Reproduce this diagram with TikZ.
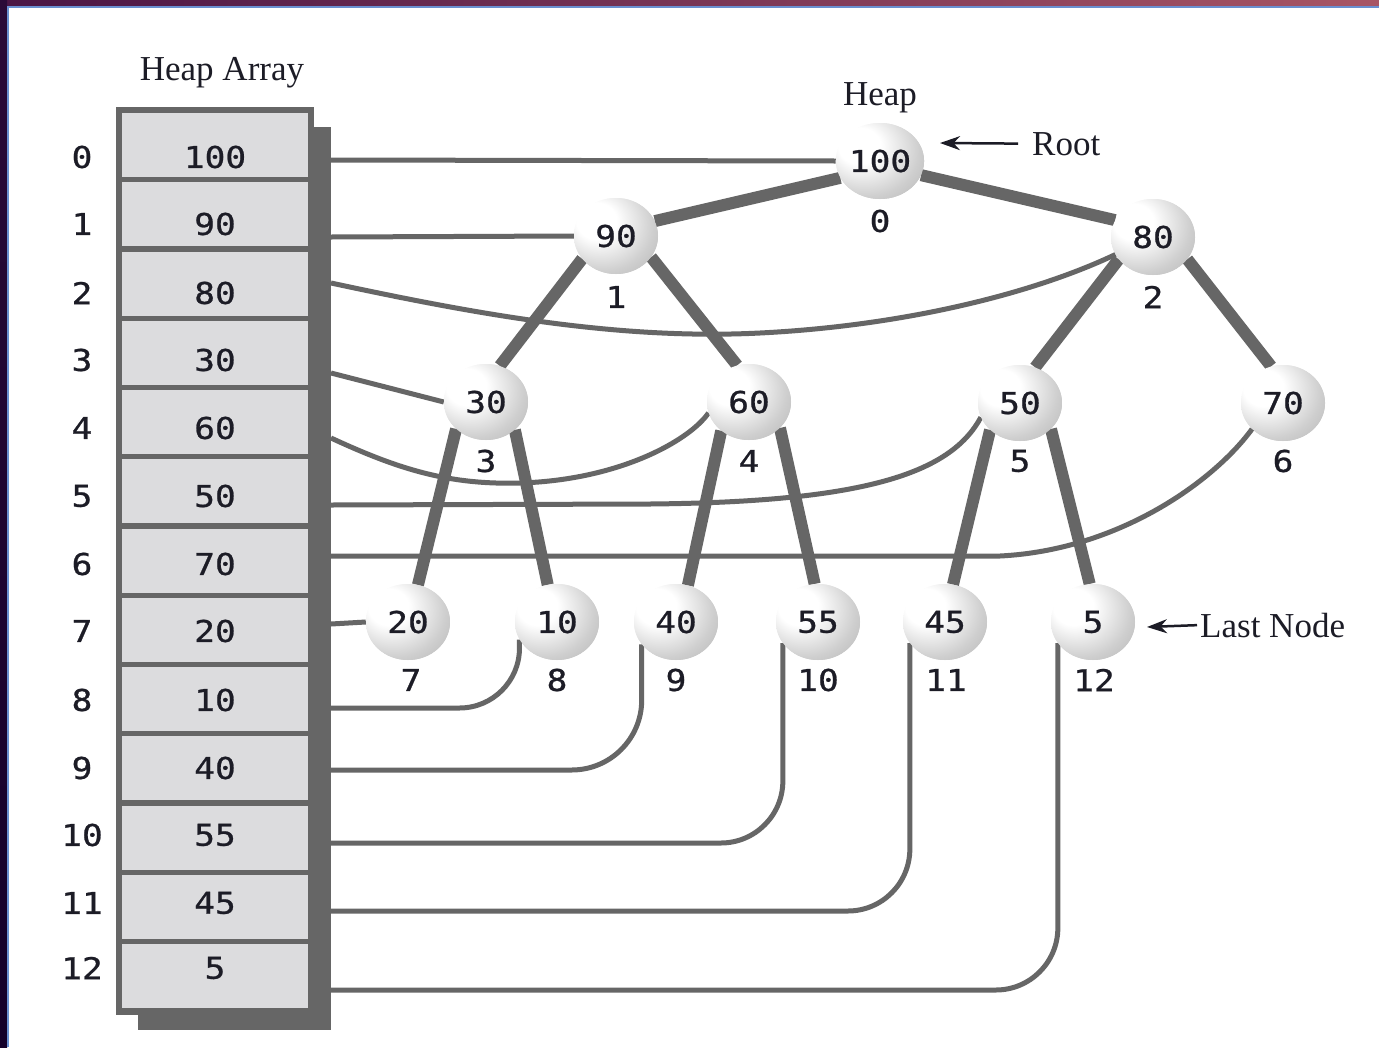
\documentclass[tikz,border=0pt]{standalone}
\usepackage{fontspec}
\setmainfont{Liberation Serif}
\newfontfamily\monof[FakeStretch=1.15,FakeBold=0.8]{DejaVu Sans Mono}
\usetikzlibrary{arrows.meta,shapes.geometric}
\definecolor{lg}{HTML}{666666}
\definecolor{cellc}{HTML}{DCDCDE}
\definecolor{txt}{HTML}{1C1C26}
\definecolor{bandA}{HTML}{4A1545}
\definecolor{bandB}{HTML}{A85565}
\definecolor{bandC}{HTML}{2A0A38}
\definecolor{bandD}{HTML}{14002A}
\definecolor{blueline}{HTML}{6A8FD0}
\pgfdeclareradialshading{ballshade}{\pgfpoint{-14bp}{12bp}}{color(0bp)=(white); color(12bp)=(white); color(30bp)=(gray!38); color(46bp)=(gray!62); color(70bp)=(gray!82)}
\begin{document}
\begin{tikzpicture}[x=1pt,y=-1pt,
  ball/.style={ellipse,minimum width=84pt,minimum height=76pt,inner sep=0pt,shading=ballshade,font=\monof\fontsize{30}{32}\selectfont,text=txt},
  idx/.style={font=\monof\fontsize{30}{32}\selectfont,text=txt,inner sep=0pt},
  cellbox/.style={rectangle,fill=cellc,minimum width=186pt,minimum height=64pt,inner sep=0pt},
  tedge/.style={line width=12pt,draw=lg},
  conn/.style={line width=5pt,draw=lg},
  lbl/.style={font=\fontsize{35}{40}\selectfont,text=txt,inner sep=0pt},
  ptr/.style={line width=2.5pt,draw=txt,-{Stealth[length=20pt,width=14pt]}}
]
\useasboundingbox (0,0) rectangle (1379,1047);
\fill[white] (0,0) rectangle (1379,1047);
% window frame
\shade[left color=bandA,right color=bandB] (0,0) rectangle (1379,6);
\fill[blueline] (0,6) rectangle (1379,7.5);
\shade[top color=bandC,bottom color=bandD] (0,0) rectangle (7,1047);
\fill[blueline] (7,6) rectangle (8.5,1047);

% tree nodes
\node[ball] (nroot) at (880,161) {100};
\node[ball] (n90) at (616,236) {90};
\node[ball] (n80) at (1153,237) {80};
\node[ball] (n30) at (486,402) {30};
\node[ball] (n60) at (749,402) {60};
\node[ball] (n50) at (1020,403) {50};
\node[ball] (n70) at (1283,403) {70};
\node[ball] (n20) at (408,622) {20};
\node[ball] (n10) at (557,622) {10};
\node[ball] (n40) at (676,622) {40};
\node[ball] (n55) at (818,622) {55};
\node[ball] (n45) at (945,622) {45};
\node[ball] (n5) at (1093,622) {5};

% connector start points at the array
\foreach \k/\ly in {0/160,1/237,2/283,3/373,4/438,5/505,6/556,7/624,8/708,9/770,10/843,11/911,12/990}
  \coordinate (p\k) at (331,\ly);

\draw[conn] (p0) -- (nroot.west);
\draw[conn] (p1) -- (n90.west);
\draw[conn] (p2) .. controls (480,315) and (620,340) .. (760,333) .. controls (900,326) and (1030,295) .. (n80.205);
\draw[conn] (p3) -- (n30.west);
\draw[conn] (p4) .. controls (400,470) and (450,485) .. (520,483) .. controls (620,480) and (690,440) .. (n60.195);
\draw[conn] (p5) -- (650,504) .. controls (860,502) and (950,475) .. (n50.200);
\draw[conn] (p6) -- (1000,556) .. controls (1120,550) and (1215,480) .. (n70.220);
\draw[conn] (p7) -- (n20.west);
\draw[conn,rounded corners=60pt] (p8) -| (n10.205);
\draw[conn,rounded corners=70pt] (p9) -| (n40.213);
\draw[conn,rounded corners=62pt] (p10) -| (n55.211);
\draw[conn,rounded corners=62pt] (p11) -| (n45.211);
\draw[conn,rounded corners=62pt] (p12) -| (n5.211);
% tree edges
\draw[tedge] (nroot.203) -- (n90.21);
\draw[tedge] (nroot.-19) -- (n80.156);
\draw[tedge] (n90.214) -- (n30.69);
\draw[tedge] (n90.-31) -- (n60.108);
\draw[tedge] (n80.213) -- (n50.67);
\draw[tedge] (n80.-33) -- (n70.108);
\draw[tedge] (n30.222) -- (n20.75);
\draw[tedge] (n30.-44) -- (n10.104);
\draw[tedge] (n60.226) -- (n40.72);
\draw[tedge] (n60.-40) -- (n55.95);
\draw[tedge] (n50.222) -- (n45.78);
\draw[tedge] (n50.-40) -- (n5.95);

% redraw balls on top of the lines
\foreach \v/\x/\y in {100/880/161,90/616/236,80/1153/237,30/486/402,60/749/402,50/1020/403,70/1283/403,20/408/622,10/557/622,40/676/622,55/818/622,45/945/622,5/1093/622}
  \node[ball] at (\x,\y) {\v};

% index labels under balls
\foreach \n/\t/\x/\y in {a/0/880/221,b/1/616/297,c/2/1153/297,d/3/486/461,e/4/749/461,f/5/1020/461,g/6/1283/461,h/7/411/680,i/8/557/680,j/9/676/680,k/10/818/680,l/11/946/680,m/12/1094/680}
  \node[idx] (t\n) at (\x,\y) {\t};

% array
\fill[lg] (138,127) rectangle (331,1030);
\fill[lg] (116,107) rectangle (314,1015);
\foreach \k in {0,...,12}
  \node[cellbox] (c\k) at (215,{145+69.25*\k}) {};
\foreach \k/\val/\ty in {0/100/157,1/90/224,2/80/293,3/30/360,4/60/428,5/50/496,6/70/564,7/20/631,8/10/700,9/40/768,10/55/835,11/45/903,12/5/968}{
  \node[idx] (v\k) at (215,\ty) {\val};
  \node[idx] (i\k) at (82,\ty) {\k};
}

% titles and pointers
\node[lbl,anchor=base] (harr) at (222,80) {Heap Array};
\node[lbl,anchor=base] (hh) at (880,105) {Heap};
\node[lbl,anchor=base west] (rootlbl) at (1032,155) {Root};
\node[lbl,anchor=base west] (lastlbl) at (1200,637) {Last Node};
\coordinate (rtip) at (940,143);
\coordinate (ltip) at (1147,627);
\draw[ptr,shorten <=14pt] (rootlbl.west) -- (rtip);
\draw[ptr,shorten <=3pt] (lastlbl.west) -- (ltip);
\end{tikzpicture}
\end{document}
